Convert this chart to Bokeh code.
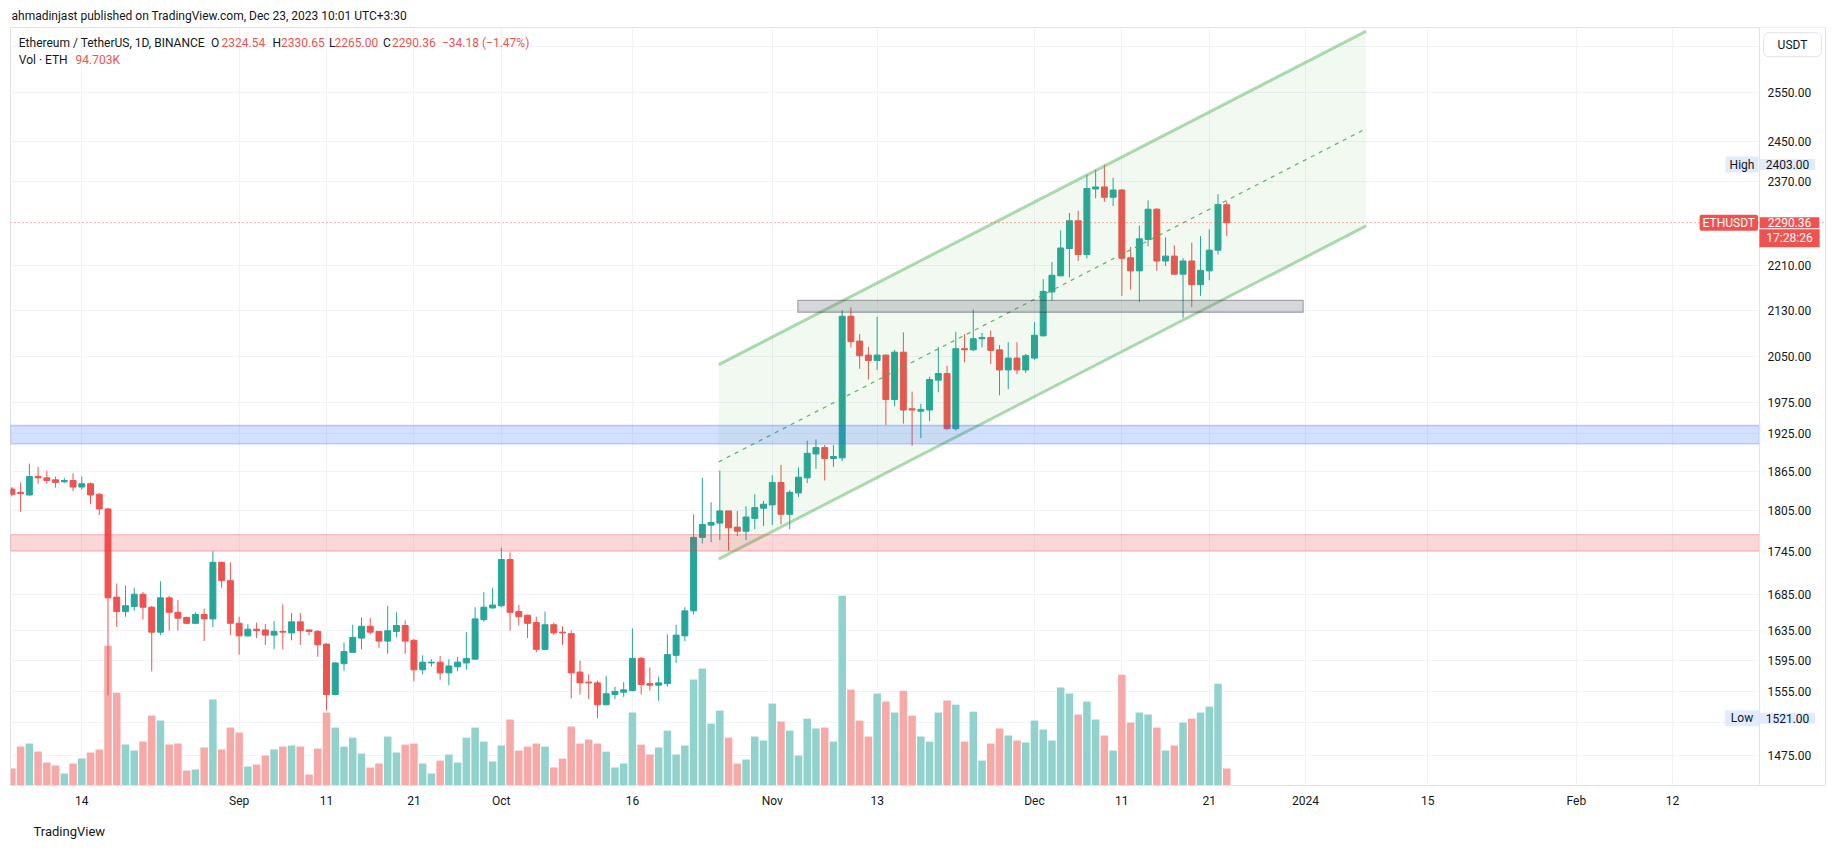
import numpy as np
import pandas as pd
from bokeh.plotting import figure
from bokeh.models import (Range1d, LinearScale, FixedTicker, PrintfTickFormatter,
                          BoxAnnotation, Span, Label, ColumnDataSource, Title)
from bokeh.embed import file_html
from bokeh.resources import INLINE

# ---------------- data (ETH/USDT daily, Binance) ----------------
START_DATE = "2023-08-06"

opens = [
    1838, 1833, 1829, 1857, 1855, 1852, 1849, 1851, 1841, 1846, 1830, 1808, 1681, 1661, 1668, 1685, 1667, 1633, 1680, 1660, 1653, 1645, 1657, 1651, 1730, 1704,
    1645, 1628, 1637, 1636, 1629, 1634, 1632, 1647, 1636, 1634, 1617, 1551, 1591, 1606, 1625, 1641, 1634, 1621, 1634, 1642, 1622, 1583, 1592, 1593, 1579, 1587, 1592, 1597, 1650, 1666,
    1669, 1734, 1661, 1656, 1646, 1610, 1643, 1633, 1631, 1580, 1567, 1566, 1538, 1551, 1554, 1556, 1598, 1565, 1563, 1565, 1602, 1628, 1662, 1766, 1784, 1787, 1805, 1781, 1775, 1794, 1809,
    1814, 1848, 1800, 1832, 1855, 1892, 1902, 1885, 1886, 2120, 2077, 2053, 2044, 2053, 1979, 2058, 1964, 1960, 1962, 2011, 2022, 1932, 2064, 2062, 2081, 2083, 2062, 2028, 2048, 2028,
    2048, 2086, 2163, 2192, 2242, 2294, 2231, 2355, 2359, 2339, 2353, 2225, 2201, 2259, 2316, 2219, 2228, 2195, 2219, 2176, 2201, 2239, 2324.54,
]
highs = [
    1841, 1848, 1877, 1872, 1866, 1857, 1855, 1862, 1857, 1848, 1832, 1810, 1700, 1697, 1694, 1688, 1669, 1703, 1683, 1677, 1654, 1660, 1665, 1746, 1731, 1730,
    1654, 1644, 1646, 1644, 1648, 1671, 1659, 1659, 1637, 1636, 1618, 1593, 1619, 1643, 1653, 1652, 1634, 1669, 1660, 1649, 1624, 1602, 1597, 1601, 1597, 1600, 1633, 1667, 1688, 1694,
    1751, 1744, 1670, 1657, 1654, 1661, 1646, 1641, 1635, 1595, 1577, 1569, 1575, 1561, 1567, 1638, 1600, 1586, 1574, 1630, 1643, 1667, 1800, 1855, 1818, 1866, 1805, 1805, 1812, 1830, 1820,
    1859, 1875, 1836, 1871, 1913, 1915, 1906, 1906, 2131, 2136, 2089, 2067, 2119, 2054, 2062, 2092, 1992, 1972, 2017, 2067, 2035, 2093, 2089, 2132, 2091, 2095, 2070, 2075, 2075, 2055,
    2110, 2186, 2217, 2276, 2309, 2313, 2383, 2393, 2403, 2377, 2355, 2245, 2285, 2333, 2318, 2263, 2248, 2224, 2253, 2265, 2278, 2345, 2330.65,
]
lows = [
    1827, 1804, 1828, 1846, 1846, 1840, 1847, 1835, 1837, 1815, 1799, 1550, 1640, 1654, 1662, 1650, 1581, 1629, 1635, 1635, 1644, 1644, 1621, 1640, 1694, 1629,
    1603, 1627, 1625, 1616, 1610, 1610, 1622, 1616, 1629, 1600, 1531, 1550, 1582, 1606, 1610, 1630, 1612, 1604, 1626, 1604, 1568, 1577, 1587, 1570, 1563, 1581, 1583, 1596, 1647, 1665,
    1667, 1635, 1642, 1625, 1606, 1609, 1629, 1616, 1546, 1551, 1545, 1521, 1537, 1545, 1548, 1555, 1551, 1556, 1543, 1561, 1592, 1621, 1657, 1757, 1759, 1762, 1747, 1768, 1762, 1778, 1783,
    1784, 1785, 1778, 1826, 1847, 1869, 1851, 1872, 1881, 2066, 2030, 2012, 2028, 1938, 1968, 1940, 1905, 1917, 1944, 1991, 1930, 1929, 2041, 2060, 2066, 2038, 1986, 1996, 2021, 2023,
    2045, 2085, 2147, 2191, 2189, 2219, 2224, 2337, 2330, 2322, 2156, 2167, 2145, 2246, 2201, 2210, 2194, 2117, 2136, 2156, 2184, 2231, 2265.00,
]
closes = [
    1830, 1831, 1857, 1855, 1851, 1848, 1851, 1841, 1846, 1829, 1808, 1680, 1661, 1669, 1685, 1667, 1633, 1680, 1660, 1652, 1645, 1657, 1651, 1730, 1704, 1645,
    1628, 1637, 1635, 1629, 1634, 1633, 1647, 1635, 1634, 1616, 1551, 1592, 1607, 1626, 1641, 1633, 1621, 1635, 1642, 1621, 1583, 1593, 1593, 1579, 1588, 1593, 1598, 1651, 1667, 1670,
    1734, 1660, 1654, 1645, 1610, 1643, 1632, 1632, 1579, 1566, 1566, 1538, 1552, 1555, 1557, 1598, 1564, 1563, 1566, 1603, 1629, 1662, 1766, 1785, 1788, 1805, 1780, 1775, 1796, 1810, 1815,
    1848, 1800, 1833, 1856, 1893, 1902, 1885, 1888, 2120, 2076, 2052, 2044, 2053, 1979, 2058, 1962, 1962, 1963, 2012, 2022, 1932, 2064, 2062, 2081, 2083, 2061, 2028, 2048, 2028, 2052,
    2087, 2164, 2193, 2243, 2294, 2231, 2356, 2359, 2339, 2353, 2224, 2201, 2260, 2316, 2219, 2228, 2195, 2219, 2176, 2202, 2239, 2325, 2290.36,
]
volumes_k = [
    95, 217, 234, 189, 128, 111, 67, 123, 150, 184, 201, 780, 518, 228, 195, 245, 390, 362, 228, 234, 84, 89, 212, 479, 201, 323,
    295, 106, 117, 167, 201, 217, 223, 217, 61, 206, 407, 323, 217, 267, 178, 100, 123, 273, 184, 228, 234, 123, 67, 139, 173, 128, 267, 323, 245, 134,
    223, 368, 195, 217, 234, 217, 100, 150, 329, 234, 256, 234, 189, 100, 123, 407, 228, 173, 212, 306, 173, 223, 591, 652, 345, 418, 267, 123, 145, 273, 251,
    457, 357, 306, 167, 373, 318, 323, 245, 1058, 535, 362, 273, 513, 468, 407, 529, 390, 273, 245, 407, 474, 451, 245, 412, 139, 234, 318, 279, 251, 240,
    362, 312, 251, 546, 513, 396, 468, 368, 279, 195, 618, 351, 407, 396, 323, 195, 223, 351, 373, 407, 440, 568, 94.703,
]

price_ticks = [1475, 1515, 1555, 1595, 1635, 1685, 1745, 1805, 1865, 1925, 1975,
               2050, 2130, 2210, 2370, 2450, 2550, 2650]
hidden_price_ticks = [1515, 2650]
time_tick_dates = ["2023-08-14", "2023-09-01", "2023-09-11", "2023-09-21", "2023-10-01",
                   "2023-10-16", "2023-11-01", "2023-11-13", "2023-12-01", "2023-12-11",
                   "2023-12-21", "2024-01-01", "2024-01-15", "2024-02-01", "2024-02-12"]
time_tick_labels = ["14", "Sep", "11", "21", "Oct", "16", "Nov", "13", "Dec", "11",
                    "21", "2024", "15", "Feb", "12"]

blue_zone = [1908, 1937]
red_zone = [1746.5, 1770]
box_dates = ["2023-11-03 22:00", "2023-12-31 18:00"]
box_prices = [2127, 2148]
channel_dates = ["2023-10-25 21:00", "2024-01-07 23:00"]
channel_upper = [2037, 2683]
channel_lower = [1734.6, 2284.2]
last_close = 2290.36
period_high = 2403.00
period_low = 1521.00
countdown = "17:28:26"

# ---------------- layout helpers (page pixels -> data) ----------------
ORIGIN = pd.Timestamp("2023-08-14")


def day_of(ts):
    return float((pd.Timestamp(ts) - ORIGIN) / pd.Timedelta(days=1))


PX_ORIGIN, PX_PER_DAY = 81.3, 8.74
Y_REF_PRICE, Y_REF_PX, PX_PER_LOG = 2550.0, 92.3, 1212.0
VOL_AXIS_TOP = 4228.0
W, H = 1835, 849
FRAME_L, FRAME_R, FRAME_T, FRAME_B = 10, 1825, 27, 786
SCALE_X = 1759  # left edge of the price scale column


def xd(px):
    return float((px - PX_ORIGIN) / PX_PER_DAY)


def yd(py):
    return float(Y_REF_PRICE * np.exp(-(py - Y_REF_PX) / PX_PER_LOG))


TEXT = "#131722"
BORDER = "#e0e3eb"
UP, DOWN = "#26a69a", "#ef5350"
UPV, DOWNV = "#92d2cc", "#f7a9a7"
FONT = "Roboto"

dates = pd.date_range(START_DATE, periods=len(closes), freq="D")
xs = [day_of(d) for d in dates]
inc = [c >= o for o, c in zip(opens, closes)]

p = figure(width=W, height=H, output_backend="svg", toolbar_location=None,
           y_axis_type="log", y_axis_location="right",
           x_range=Range1d(xd(FRAME_L), xd(FRAME_R)),
           y_range=Range1d(yd(FRAME_B), yd(FRAME_T)),
           min_border_left=FRAME_L, min_border_right=W - FRAME_R,
           min_border_top=FRAME_T, min_border_bottom=H - FRAME_B)
p.background_fill_color = "white"
p.border_fill_color = "white"
p.outline_line_color = BORDER
p.extra_y_ranges = {"vol": Range1d(0, VOL_AXIS_TOP)}
p.extra_y_scales = {"vol": LinearScale()}

p.add_layout(Title(text="ahmadinjast published on TradingView.com, Dec 23, 2023 10:01 UTC+3:30",
                   align="left", offset=1, standoff=10, text_font=FONT,
                   text_font_size="12px", text_font_style="normal", text_color=TEXT), "above")

xt = FixedTicker(ticks=[day_of(d) for d in time_tick_dates])
p.xaxis.ticker = xt
p.xgrid.ticker = xt
p.xaxis.major_label_overrides = {int(day_of(d)): lab for d, lab in zip(time_tick_dates, time_tick_labels)}

yt = FixedTicker(ticks=price_ticks)
p.yaxis.ticker = yt
p.ygrid.ticker = yt
p.yaxis.formatter = PrintfTickFormatter(format="%.2f")
p.yaxis.major_label_overrides = {t: "" for t in hidden_price_ticks}

for ax in (p.xaxis, p.yaxis):
    ax.axis_line_color = BORDER
    ax.major_tick_line_color = None
    ax.minor_tick_line_color = None
    ax.major_tick_out = 0
    ax.major_tick_in = 0
    ax.minor_tick_out = 0
    ax.major_label_text_font = FONT
    ax.major_label_text_font_size = "12px"
    ax.major_label_text_color = TEXT
p.xaxis.major_label_standoff = 8
# price labels sit inside the price-scale column, left of the right border line
p.yaxis.major_label_standoff = SCALE_X + 8 - FRAME_R

# footer below the time scale
p.add_layout(Title(text="TradingView", align="left", offset=23, standoff=22,
                   vertical_align="bottom", text_font=FONT, text_font_size="13px",
                   text_font_style="normal", text_color=TEXT), "below")

p.xgrid.grid_line_color = "#f0f3fa"
p.ygrid.grid_line_color = "#f0f3fa"

src = ColumnDataSource(dict(
    x=xs, o=opens, h=highs, l=lows, c=closes,
    top=[max(o, c) for o, c in zip(opens, closes)],
    bottom=[min(o, c) for o, c in zip(opens, closes)],
    color=[UP if i else DOWN for i in inc],
    vcolor=[UPV if i else DOWNV for i in inc],
    vol=volumes_k,
))

# white price-scale column (hides grid lines there)
p.quad(left=xd(SCALE_X), right=xd(FRAME_R + 2), bottom=yd(FRAME_B + 2), top=yd(FRAME_T - 2),
       fill_color="white", line_color=None)

p.vbar(x="x", width=0.86, top="vol", bottom=0, fill_color="vcolor", line_color=None,
       y_range_name="vol", source=src)
p.segment(x0="x", y0="l", x1="x", y1="h", line_color="color", line_width=1, source=src)
p.vbar(x="x", width=0.68, top="top", bottom="bottom", fill_color="color",
       line_color="color", line_width=1, source=src)

# horizontal zones
p.add_layout(BoxAnnotation(bottom=blue_zone[0], top=blue_zone[1], right=xd(SCALE_X),
                           fill_color="#2962ff", fill_alpha=0.2, line_color="#2962ff",
                           line_width=1.3))
p.add_layout(BoxAnnotation(bottom=red_zone[0], top=red_zone[1], right=xd(SCALE_X),
                           fill_color="#f23645", fill_alpha=0.2, line_color="#e53a44",
                           line_width=1.3))
p.add_layout(BoxAnnotation(left=day_of(box_dates[0]), right=day_of(box_dates[1]),
                           bottom=box_prices[0], top=box_prices[1], fill_color="#787b86",
                           fill_alpha=0.3, line_color=TEXT, line_width=1.3))

# parallel channel
cx = [day_of(d) for d in channel_dates]
mid = [float(np.sqrt(u * l)) for u, l in zip(channel_upper, channel_lower)]
p.patch(x=[cx[0], cx[1], cx[1], cx[0]],
        y=[channel_upper[0], channel_upper[1], channel_lower[1], channel_lower[0]],
        fill_color="#4caf50", fill_alpha=0.08, line_color=None)
p.line(cx, channel_upper, line_color="#4caf50", line_alpha=0.45, line_width=3)
p.line(cx, channel_lower, line_color="#4caf50", line_alpha=0.45, line_width=3)
p.line(cx, mid, line_color="#4caf50", line_alpha=0.85, line_width=1.3, line_dash="4 5")

p.add_layout(Span(location=last_close, dimension="width", line_color="#ef5350",
                  line_width=1, line_dash="1 3"))
p.add_layout(Span(location=xd(SCALE_X), dimension="height", line_color=BORDER, line_width=1))


def add_label(text, px, y, align="left", color=TEXT, size="12px", bg=None,
              pad=None, radius=0, border=None):
    lab = Label(x=xd(px), y=y, text=text, text_align=align, text_baseline="middle",
                text_font=FONT, text_font_size=size, text_color=color)
    if bg is not None:
        lab.background_fill_color = bg
        lab.background_fill_alpha = 1.0
    if border is not None:
        lab.border_line_color = border
        lab.border_line_width = 1
    if pad is not None:
        lab.padding = dict(left=pad[0], right=pad[0], top=pad[1], bottom=pad[1])
    if radius:
        lab.border_radius = radius
    p.add_layout(lab)


# legend texts
legend_pieces = [("Ethereum / TetherUS, 1D, BINANCE", 18.3, TEXT),
                 ("O", 210.5, TEXT), ("%.2f" % opens[-1], 221.0, DOWN),
                 ("H", 272.0, TEXT), ("%.2f" % highs[-1], 280.5, DOWN),
                 ("L", 328.5, TEXT), ("%.2f" % lows[-1], 334.0, DOWN),
                 ("C", 382.5, TEXT), ("%.2f" % closes[-1], 391.5, DOWN),
                 ("\u221234.18 (\u22121.47%)", 441.5, DOWN)]
for t, px, col in legend_pieces:
    add_label(t, px, yd(42.3), color=col)
add_label("Vol \u00b7 ETH", 18.3, yd(59.7))
add_label("94.703K", 75.0, yd(59.7), color=DOWN)

# price-scale labels
add_label("USDT", 1792, yd(44.2), align="center", bg="white", border=BORDER,
          pad=(14, 5), radius=5)
add_label("High", 1741.5, period_high, align="center", bg="#e1ebfc", pad=(4, 1))
add_label("%.2f" % period_high, 1787, period_high, align="center", bg="#e1ebfc", pad=(6, 1))
add_label("Low", 1741.5, period_low, align="center", bg="#e1ebfc", pad=(6, 1))
add_label("%.2f" % period_low, 1787, period_low, align="center", bg="#e1ebfc", pad=(6, 1))
add_label("ETHUSDT", 1728.3, last_close, align="center", color="white", bg="#ef5350",
          pad=(3, 1), radius=2)
add_label(countdown, 1789, yd(238.0), align="center", color="white", bg="#ef5350",
          pad=(7, 2))
add_label("%.2f" % last_close, 1789, last_close, align="center", color="white",
          bg="#ef5350", pad=(8, 1))

open("out.html", "w").write(file_html(p, INLINE))
